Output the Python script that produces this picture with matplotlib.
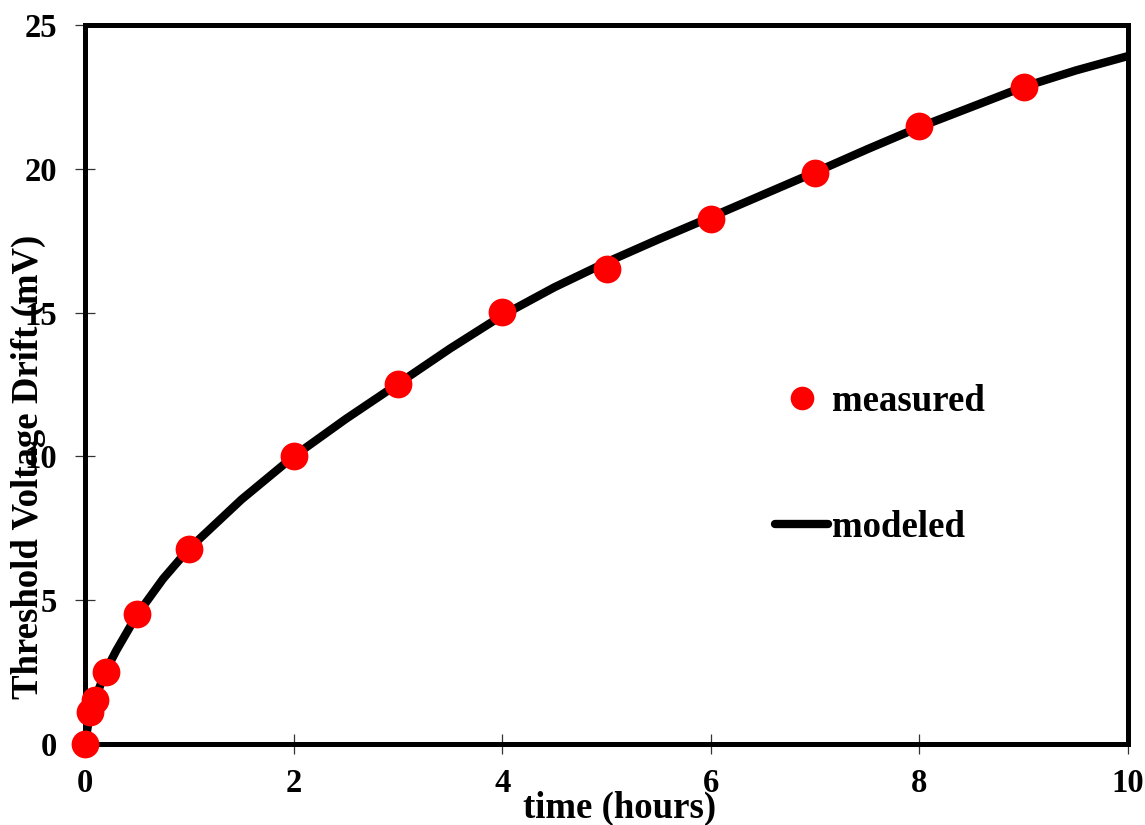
import matplotlib
matplotlib.use("Agg")
import matplotlib.pyplot as plt
from matplotlib.lines import Line2D

plt.rcParams['font.family'] = ['Liberation Serif', 'DejaVu Serif']
plt.rcParams['font.weight'] = 'bold'

# measured data
t_meas = [0, 0.05, 0.1, 0.2, 0.5, 1, 2, 3, 4, 5, 6, 7, 8, 9]
v_meas = [0, 1.12, 1.53, 2.5, 4.51, 6.77, 10.02, 12.52, 15.01, 16.5, 18.25, 19.84, 21.5, 22.86]

# modeled curve
t_model = [0, 0.05, 0.1, 0.2, 0.3, 0.5, 0.75, 1, 1.5, 2, 2.5, 3, 3.5, 4, 4.5, 5,
           5.5, 6, 6.5, 7, 7.5, 8, 8.5, 9, 9.5, 10]
v_model = [0, 1.15, 1.6, 2.55, 3.25, 4.5, 5.75, 6.8, 8.5, 10.0, 11.3, 12.52, 13.75, 14.9, 15.88, 16.75,
           17.55, 18.32, 19.1, 19.88, 20.68, 21.45, 22.15, 22.85, 23.42, 23.92]

x_ticks = [0, 2, 4, 6, 8, 10]
y_ticks = [0, 5, 10, 15, 20, 25]

fig = plt.figure(figsize=(11.45, 8.25), dpi=100)
ax = fig.add_axes([85/1145, 1 - 744/825, (1128-85)/1145, (744-25)/825])

ax.plot(t_model, v_model, color='black', lw=6, solid_capstyle='butt', solid_joinstyle='round',
        zorder=3, clip_on=False)
ax.plot(t_meas, v_meas, 'o', color='#ff0000', ms=20, mec='none', zorder=4, clip_on=False)

ax.set_xlim(0, 10)
ax.set_ylim(0, 25)
ax.set_xticks(x_ticks)
ax.set_yticks(y_ticks)
ax.set_xticklabels([str(v) for v in x_ticks])
ax.set_yticklabels([str(v) for v in y_ticks])

for s in ax.spines.values():
    s.set_linewidth(3.6)
    s.set_color('black')
    s.set_zorder(2)

ax.tick_params(axis='both', direction='inout', length=14, width=0.9, color='#333333',
               labelsize=23.5)
ax.tick_params(axis='x', pad=10)
ax.tick_params(axis='y', pad=13)
for lab in ax.get_xticklabels() + ax.get_yticklabels():
    lab.set_fontweight('bold')

ax.set_xlabel('time (hours)', fontsize=26.5, fontweight='bold', va='center')
ax.xaxis.set_label_coords((620-85)/1043, (744-808)/719)
ax.set_ylabel('Threshold Voltage Drift (mV)', fontsize=26.5, fontweight='bold', va='center')
ax.yaxis.set_label_coords((28-85)/1043, (744-467)/719)

handles = [Line2D([], [], ls='none', marker='o', color='#ff0000', ms=17, mec='none'),
           Line2D([], [], color='black', lw=6, solid_capstyle='round')]
leg = ax.legend(handles, ['measured', 'modeled'], loc='center left',
                bbox_to_anchor=((775-85)/1043, (744-464.5)/719), frameon=False,
                borderpad=0, borderaxespad=0, handlelength=1.45, handletextpad=0.1,
                labelspacing=2.48, prop={'size': 26.5, 'weight': 'bold'})

fig.savefig('out.png', dpi=100)
